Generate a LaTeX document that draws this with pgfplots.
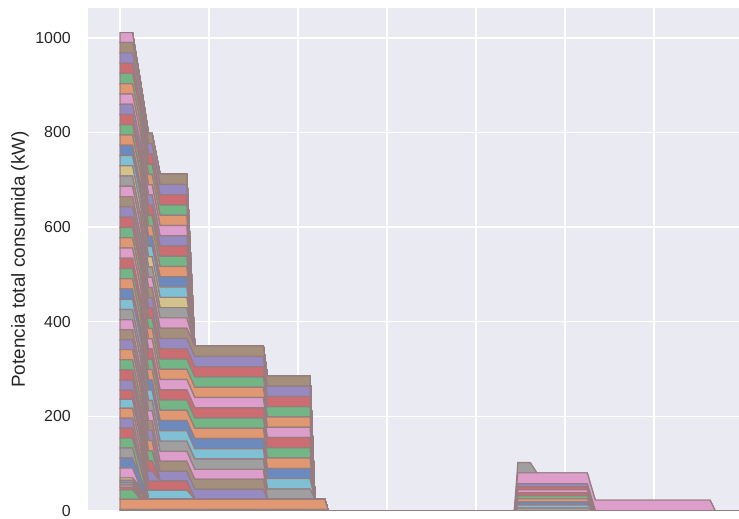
\documentclass[border=0pt]{standalone}
\usepackage{pgfplots}
\pgfplotsset{compat=1.18}
\usepackage{pgfplotstable}
\usepackage{fontspec}
\setmainfont{Liberation Sans}

\definecolor{bgc}{RGB}{234,234,242}
\definecolor{txt}{RGB}{38,38,38}
\definecolor{edgec}{RGB}{150,125,128}
% seaborn "deep"
\definecolor{dblue}{RGB}{76,114,176}
\definecolor{dorange}{RGB}{221,132,82}
\definecolor{dgreen}{RGB}{85,168,104}
\definecolor{dred}{RGB}{196,78,82}
\definecolor{dpurple}{RGB}{129,114,179}
\definecolor{dbrown}{RGB}{147,120,96}
\definecolor{dpink}{RGB}{218,139,195}
\definecolor{dgray}{RGB}{140,140,140}
\definecolor{dolive}{RGB}{204,185,116}
\definecolor{dcyan}{RGB}{100,181,205}
\colorlet{cblue}{dblue!80!bgc}
\colorlet{corange}{dorange!80!bgc}
\colorlet{cgreen}{dgreen!80!bgc}
\colorlet{cred}{dred!80!bgc}
\colorlet{cpurple}{dpurple!80!bgc}
\colorlet{cbrown}{dbrown!80!bgc}
\colorlet{cpink}{dpink!80!bgc}
\colorlet{cgray}{dgray!80!bgc}
\colorlet{colive}{dolive!80!bgc}
\colorlet{ccyan}{dcyan!80!bgc}

% power (kW) of each kind of load, sampled at the switching times
\pgfplotstableread{
x     t3 t22 a20 a21 b5 b21 c21  d19 d22  e21 f22  g22 h24 i6
0.000 3  22  20  21  5  21  21.5 19  21.7 21  21.7 0   0   0
0.140 3  22  20  21  5  21  21.5 19  21.7 21  21.7 0   0   0
0.230 3  22  0   0   5  21  21.5 19  21.7 21  21.7 0   0   0
0.320 3  22  0   0   0  0   21.5 19  21.7 21  21.7 0   0   0
0.360 3  22  0   0   0  0   21.5 19  21.7 21  21.7 0   0   0
0.450 3  22  0   0   0  0   0    19  21.7 21  21.7 0   0   0
0.750 3  22  0   0   0  0   0    19  21.7 21  21.7 0   0   0
0.840 3  22  0   0   0  0   0    0   0    21  21.7 0   0   0
1.610 3  22  0   0   0  0   0    0   0    21  21.7 0   0   0
1.655 3  22  0   0   0  0   0    0   0    0   21.7 0   0   0
2.135 3  22  0   0   0  0   0    0   0    0   21.7 0   0   0
2.190 3  22  0   0   0  0   0    0   0    0   0    0   0   0
2.300 3  22  0   0   0  0   0    0   0    0   0    0   0   0
2.340 0  0   0   0   0  0   0    0   0    0   0    0   0   0
4.430 0  0   0   0   0  0   0    0   0    0   0    0   0   0
4.470 0  0   0   0   0  0   0    0   0    0   0    22  23  6.4
4.610 0  0   0   0   0  0   0    0   0    0   0    22  23  6.4
4.685 0  0   0   0   0  0   0    0   0    0   0    0   23  6.4
5.250 0  0   0   0   0  0   0    0   0    0   0    0   23  6.4
5.340 0  0   0   0   0  0   0    0   0    0   0    0   23  0
6.630 0  0   0   0   0  0   0    0   0    0   0    0   23  0
6.690 0  0   0   0   0  0   0    0   0    0   0    0   0   0
6.955 0  0   0   0   0  0   0    0   0    0   0    0   0   0
}\devices

\begin{document}
\begin{tikzpicture}
\begin{axis}[
  scale only axis, width=651bp, height=503bp,
  xmin=-0.3596, xmax=6.955, ymin=0, ymax=1063,
  stack plots=y,
  axis background/.style={fill=bgc},
  axis line style={draw=none},
  grid=major, major grid style={white, line width=1.4bp},
  major tick length=0pt,
  xtick={0,...,6}, xticklabels={},
  ytick={0,200,...,1000},
  yticklabel style={font=\fontsize{16}{16}\selectfont, text=txt, inner sep=0pt, xshift=-17bp},
  /pgf/number format/assume math mode=true,
  /pgf/number format/1000 sep={},
  ylabel={Potencia total consumida (kW)},
  every axis y label/.style={at={(axis description cs:-0.1045,0.5)}, rotate=90, anchor=center,
    font=\fontsize{19}{19}\selectfont, text=txt},
  band/.style={draw=edgec, line width=1.2bp, fill=#1},
]
% group 1, bottom to top
\addplot[band=cblue]   table[y=t3]  {\devices} \closedcycle;
\addplot[band=corange] table[y=t22] {\devices} \closedcycle;
\addplot[band=cgreen]  table[y=a20] {\devices} \closedcycle;
\addplot[band=cred]    table[y=b5]  {\devices} \closedcycle;
\addplot[band=cpink]   table[y=b5]  {\devices} \closedcycle;
\addplot[band=cgreen]  table[y=b5]  {\devices} \closedcycle;
\addplot[band=cpurple] table[y=b5]  {\devices} \closedcycle;
\addplot[band=colive]  table[y=b5]  {\devices} \closedcycle;
\addplot[band=cpink]   table[y=a21] {\devices} \closedcycle;
\addplot[band=cblue]   table[y=b21] {\devices} \closedcycle;
\addplot[band=cgray]   table[y=a21] {\devices} \closedcycle;
\addplot[band=cgreen]  table[y=b21] {\devices} \closedcycle;
\addplot[band=cred]    table[y=a21] {\devices} \closedcycle;
\addplot[band=cpurple] table[y=b21] {\devices} \closedcycle;
\addplot[band=corange] table[y=b21] {\devices} \closedcycle;
\addplot[band=ccyan]   table[y=d19] {\devices} \closedcycle;
\addplot[band=cred]    table[y=d19] {\devices} \closedcycle;
\addplot[band=cpurple] table[y=c21] {\devices} \closedcycle;
\addplot[band=cred]    table[y=c21] {\devices} \closedcycle;
\addplot[band=cgreen]  table[y=c21] {\devices} \closedcycle;
\addplot[band=corange] table[y=c21] {\devices} \closedcycle;
\addplot[band=cpurple] table[y=e21] {\devices} \closedcycle;
\addplot[band=cbrown]  table[y=e21] {\devices} \closedcycle;
\addplot[band=cpink]   table[y=e21] {\devices} \closedcycle;
\addplot[band=cgray]   table[y=f22] {\devices} \closedcycle;
\addplot[band=ccyan]   table[y=f22] {\devices} \closedcycle;
\addplot[band=cblue]   table[y=f22] {\devices} \closedcycle;
\addplot[band=corange] table[y=f22] {\devices} \closedcycle;
\addplot[band=cgreen]  table[y=f22] {\devices} \closedcycle;
\addplot[band=cred]    table[y=f22] {\devices} \closedcycle;
\addplot[band=cpink]   table[y=f22] {\devices} \closedcycle;
\addplot[band=corange] table[y=f22] {\devices} \closedcycle;
\addplot[band=cgreen]  table[y=f22] {\devices} \closedcycle;
\addplot[band=cred]    table[y=f22] {\devices} \closedcycle;
\addplot[band=cpurple] table[y=f22] {\devices} \closedcycle;
\addplot[band=cbrown]  table[y=f22] {\devices} \closedcycle;
\addplot[band=cpink]   table[y=d22] {\devices} \closedcycle;
\addplot[band=cgray]   table[y=d22] {\devices} \closedcycle;
\addplot[band=colive]  table[y=d22] {\devices} \closedcycle;
\addplot[band=ccyan]   table[y=d22] {\devices} \closedcycle;
\addplot[band=cblue]   table[y=d22] {\devices} \closedcycle;
\addplot[band=corange] table[y=d22] {\devices} \closedcycle;
\addplot[band=cgreen]  table[y=d22] {\devices} \closedcycle;
\addplot[band=cred]    table[y=d22] {\devices} \closedcycle;
\addplot[band=cpurple] table[y=d22] {\devices} \closedcycle;
\addplot[band=cpink]   table[y=d22] {\devices} \closedcycle;
\addplot[band=corange] table[y=d22] {\devices} \closedcycle;
\addplot[band=cgreen]  table[y=d22] {\devices} \closedcycle;
\addplot[band=cred]    table[y=d22] {\devices} \closedcycle;
\addplot[band=cpurple] table[y=d22] {\devices} \closedcycle;
\addplot[band=cbrown]  table[y=d22] {\devices} \closedcycle;
\addplot[band=cpink]   table[y=a21] {\devices} \closedcycle;
% group 2
\addplot[band=cgray]   table[y=i6]  {\devices} \closedcycle;
\addplot[band=ccyan]   table[y=i6]  {\devices} \closedcycle;
\addplot[band=cblue]   table[y=i6]  {\devices} \closedcycle;
\addplot[band=corange] table[y=i6]  {\devices} \closedcycle;
\addplot[band=cgreen]  table[y=i6]  {\devices} \closedcycle;
\addplot[band=cred]    table[y=i6]  {\devices} \closedcycle;
\addplot[band=cpink]   table[y=i6]  {\devices} \closedcycle;
\addplot[band=cred]    table[y=i6]  {\devices} \closedcycle;
\addplot[band=cpurple] table[y=i6]  {\devices} \closedcycle;
\addplot[band=cpink]   table[y=h24] {\devices} \closedcycle;
\addplot[band=cgray]   table[y=g22] {\devices} \closedcycle;
\end{axis}
\pgfresetboundingbox
\path[use as bounding box] (-88bp,-8bp) rectangle (651bp,511bp);
\end{tikzpicture}
\end{document}
